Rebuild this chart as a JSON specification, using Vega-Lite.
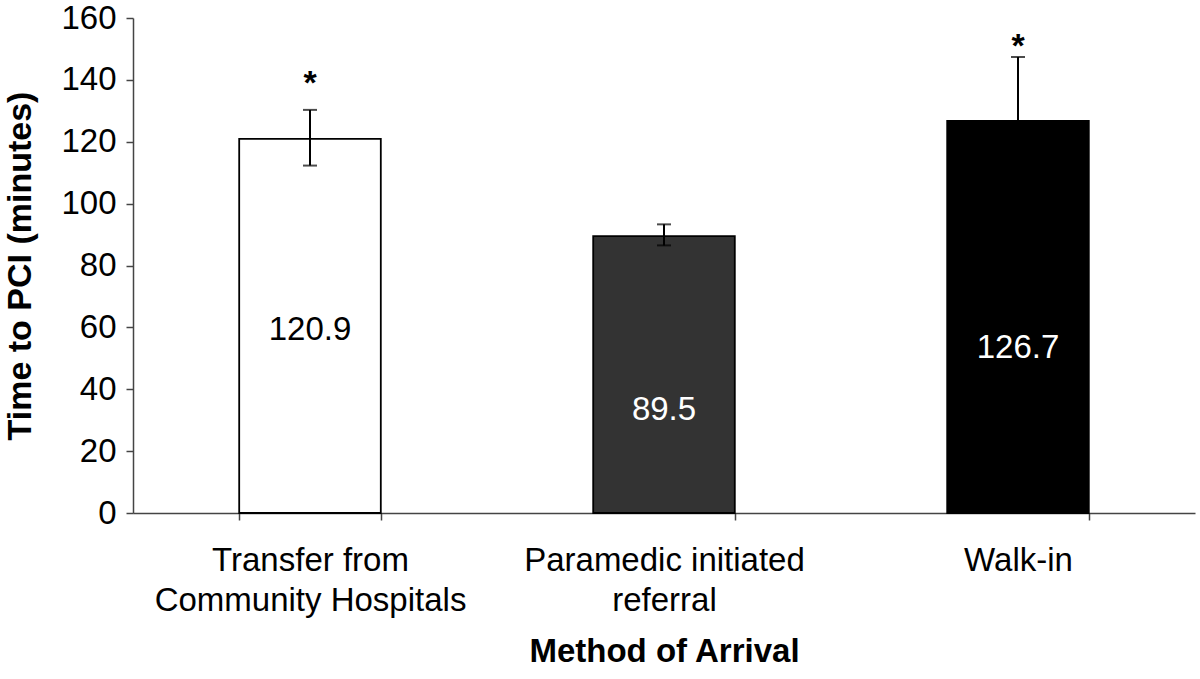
{
  "$schema": "https://vega.github.io/schema/vega-lite/v6.json",
  "width": 1062,
  "height": 495,
  "autosize": {"type": "none"},
  "padding": {"left": 133, "top": 18, "right": 5, "bottom": 166},
  "background": "white",
  "config": {
    "view": {"stroke": null},
    "font": "Liberation Sans",
    "axis": {"labelFont": "Liberation Sans", "titleFont": "Liberation Sans", "labelColor": "black", "titleColor": "black", "domainColor": "#444", "tickColor": "#444", "grid": false}
  },
  "data": {"values": [
    {"method": "Transfer from|Community Hospitals", "mean": 120.9, "lower": 112.3, "upper": 130.3, "label": "120.9"},
    {"method": "Paramedic initiated|referral", "mean": 89.5, "lower": 86.5, "upper": 93.3, "label": "89.5"},
    {"method": "Walk-in", "mean": 126.7, "lower": 106.2, "upper": 147.4, "label": "126.7"}
  ]},
  "encoding": {
    "x": {
      "field": "method", "type": "nominal", "sort": null,
      "scale": {"paddingInner": 0.6, "paddingOuter": 0.3},
      "axis": {
        "title": "Method of Arrival", "titleFontSize": 33, "titleFontWeight": "bold", "titlePadding": 18,
        "labelAngle": 0, "labelFontSize": 33, "labelLineHeight": 40, "labelPadding": 24, "labelLimit": 500,
        "labelExpr": "split(datum.label, '|')",
        "tickBand": "extent", "tickSize": 7, "domainWidth": 1.5, "tickWidth": 1.5
      }
    }
  },
  "layer": [
    {
      "mark": {"type": "bar", "stroke": "black", "strokeWidth": 1.8},
      "encoding": {
        "y": {"field": "mean", "type": "quantitative",
          "scale": {"domain": [0, 160]},
          "axis": {"title": "Time to PCI (minutes)", "titleFontSize": 34, "titleFontWeight": "bold", "titlePadding": 23,
            "values": [0, 20, 40, 60, 80, 100, 120, 140, 160], "labelFontSize": 33, "labelPadding": 10, "tickSize": 7, "domainWidth": 1.5, "tickWidth": 1.5, "labelFlush": false}},
        "fill": {"field": "method", "type": "nominal", "sort": null,
          "scale": {"range": ["#ffffff", "#333333", "#000000"]}, "legend": null}
      }
    },
    {
      "mark": {"type": "rule", "color": "black", "strokeWidth": 2},
      "encoding": {"y": {"field": "lower", "type": "quantitative"}, "y2": {"field": "upper"}}
    },
    {
      "mark": {"type": "tick", "color": "black", "size": 14, "thickness": 2},
      "encoding": {"y": {"field": "upper", "type": "quantitative"}}
    },
    {
      "mark": {"type": "tick", "color": "black", "size": 14, "thickness": 2},
      "encoding": {"y": {"field": "lower", "type": "quantitative"}}
    },
    {
      "transform": [{"filter": "datum.label == '120.9'"}],
      "mark": {"type": "text", "fontSize": 33, "color": "black", "baseline": "middle"},
      "encoding": {"y": {"datum": 59}, "text": {"field": "label"}}
    },
    {
      "transform": [{"filter": "datum.label == '89.5'"}],
      "mark": {"type": "text", "fontSize": 33, "color": "white", "baseline": "middle"},
      "encoding": {"y": {"datum": 33.4}, "text": {"field": "label"}}
    },
    {
      "transform": [{"filter": "datum.label == '126.7'"}],
      "mark": {"type": "text", "fontSize": 33, "color": "white", "baseline": "middle"},
      "encoding": {"y": {"datum": 53.3}, "text": {"field": "label"}}
    },
    {
      "transform": [{"filter": "datum.label == '120.9'"}],
      "mark": {"type": "text", "fontSize": 34, "fontWeight": "bold", "color": "black", "baseline": "alphabetic", "text": "*"},
      "encoding": {"y": {"datum": 135.5}}
    },
    {
      "transform": [{"filter": "datum.label == '126.7'"}],
      "mark": {"type": "text", "fontSize": 34, "fontWeight": "bold", "color": "black", "baseline": "alphabetic", "text": "*"},
      "encoding": {"y": {"datum": 147.5}}
    }
  ]
}
